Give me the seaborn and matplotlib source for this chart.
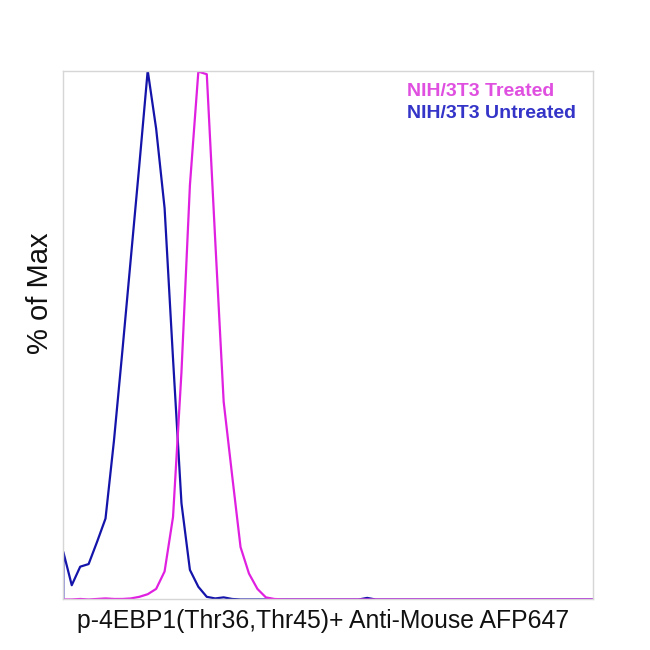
import numpy as np
import pandas as pd
import matplotlib as mpl
mpl.use('Agg')
import matplotlib.pyplot as plt
import seaborn as sns

# histogram channels (64 bins), values in % of max
untreated = [9.0, 2.7, 6.2, 6.7, 10.9, 15.3, 30.0, 47.0, 64.5, 82.0,
             100.0, 89.0, 74.0, 45.5, 18.2, 5.6, 2.4, 0.5, 0.2, 0.4,
             0.1, 0, 0, 0, 0, 0, 0, 0, 0, 0,
             0, 0, 0, 0, 0, 0, 0.3, 0, 0, 0,
             0, 0, 0, 0, 0, 0, 0, 0, 0, 0,
             0, 0, 0, 0, 0, 0, 0, 0, 0, 0,
             0, 0, 0, 0]
treated = [0, 0, 0.1, 0, 0.1, 0.2, 0.1, 0.1, 0.2, 0.5,
           1.0, 2.0, 5.3, 15.6, 43.0, 78.3, 99.8, 99.3, 67.9, 37.4,
           23.5, 9.9, 4.9, 2.0, 0.4, 0.1, 0, 0, 0, 0,
           0, 0, 0, 0, 0, 0, 0, 0, 0, 0,
           0, 0, 0, 0, 0, 0, 0, 0, 0, 0,
           0, 0, 0, 0, 0, 0, 0, 0, 0, 0,
           0, 0, 0, 0]
series_names = ['NIH/3T3 Treated', 'NIH/3T3 Untreated']
x_label = 'p-4EBP1(Thr36,Thr45)+ Anti-Mouse AFP647'
y_label = '% of Max'

line_colors = {'NIH/3T3 Treated': '#e020e0', 'NIH/3T3 Untreated': '#1414aa'}
text_colors = {'NIH/3T3 Treated': '#e050e0', 'NIH/3T3 Untreated': '#3434c8'}


def main():
    sns.set_style('white')
    plt.rcParams['font.family'] = ['Liberation Sans', 'DejaVu Sans']

    channels = np.arange(len(untreated))
    # untreated histogram starts from zero at the left edge
    df_u = pd.DataFrame({'channel': np.concatenate([[0], channels]),
                         'pct': np.concatenate([[0], untreated])})
    df_t = pd.DataFrame({'channel': channels, 'pct': treated})

    fig = plt.figure(figsize=(6.5, 6.5), dpi=100)
    ax = fig.add_axes([0.0974, 0.0777, 0.8154, 0.8138])

    sns.lineplot(data=df_u, x='channel', y='pct', sort=False, estimator=None,
                 color=line_colors[series_names[1]], lw=1.6, ax=ax)
    sns.lineplot(data=df_t, x='channel', y='pct', sort=False, estimator=None,
                 color=line_colors[series_names[0]], lw=1.6, ax=ax)

    ax.set_xlim(0, 62.8)
    ax.set_ylim(0, 100)
    ax.set_xticks([])
    ax.set_yticks([])
    for sp in ax.spines.values():
        sp.set_color('#d6d6d6')
        sp.set_linewidth(1.0)

    ax.set_xlabel(x_label, fontsize=17.8, color='#111111')
    ax.xaxis.set_label_coords(0.491, -0.018)
    ax.xaxis.label.set_va('top')
    ax.set_ylabel(y_label, fontsize=21, color='#111111')
    ax.yaxis.set_label_coords(-0.018, 0.58)

    ax.text(0.648, 0.952, series_names[0], transform=ax.transAxes, fontsize=14,
            fontweight='bold', color=text_colors[series_names[0]], va='baseline')
    ax.text(0.648, 0.910, series_names[1], transform=ax.transAxes, fontsize=14,
            fontweight='bold', color=text_colors[series_names[1]], va='baseline')

    plt.savefig('out.png', dpi=100)


if __name__ == '__main__':
    main()
